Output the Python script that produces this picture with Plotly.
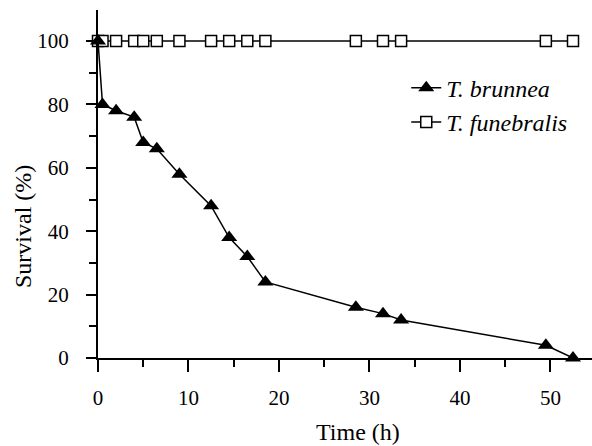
import plotly.graph_objects as go

time_h = [0, 0.5, 2, 4, 5, 6.5, 9, 12.5, 14.5, 16.5, 18.5, 28.5, 31.5, 33.5, 49.5, 52.5]
brunnea = [100, 80, 78, 76, 68, 66, 58, 48, 38, 32, 24, 16, 14, 12, 4, 0]
funebralis = [100] * len(time_h)

x_ticks = [0, 10, 20, 30, 40, 50]
y_ticks = [0, 20, 40, 60, 80, 100]

FONT = "Liberation Serif, Times New Roman, serif"

fig = go.Figure()
fig.add_trace(go.Scatter(
    x=time_h, y=funebralis, mode="lines+markers", name="<i>T. funebralis</i>",
    line=dict(color="black", width=1.5),
    marker=dict(symbol="square", size=11, color="white", line=dict(color="black", width=1.5)),
    cliponaxis=False, legendrank=2,
))
fig.add_trace(go.Scatter(
    x=time_h, y=brunnea, mode="lines+markers", name="<i>T. brunnea</i>",
    line=dict(color="black", width=1.5),
    marker=dict(symbol="triangle-up", size=14, color="black"),
    cliponaxis=False, legendrank=1,
))

axis_common = dict(
    showline=True, linecolor="black", linewidth=2, showgrid=False, zeroline=False,
    ticks="outside", tickcolor="black", tickwidth=2,
    tickfont=dict(family=FONT, size=21, color="black"),
)
fig.update_xaxes(range=[0, 54.6], tickvals=x_ticks, ticklen=12, ticklabelstandoff=8,
                 minor=dict(ticks="outside", dtick=5, ticklen=7, tickcolor="black", tickwidth=2),
                 **axis_common)
fig.update_yaxes(range=[0, 109.8], tickvals=y_ticks, ticklen=10, ticklabelstandoff=13,
                 minor=dict(ticks="outside", dtick=10, ticklen=7, tickcolor="black", tickwidth=2),
                 **axis_common)

fig.add_annotation(text="Time (h)", xref="paper", yref="paper", x=0.526, y=-0.2126,
                   xanchor="center", yanchor="middle", showarrow=False,
                   font=dict(family=FONT, size=24, color="black"))
fig.add_annotation(text="Survival (%)", xref="paper", yref="paper", x=-0.152, y=0.379,
                   xanchor="center", yanchor="middle", showarrow=False, textangle=-90,
                   font=dict(family=FONT, size=24, color="black"))

fig.update_layout(
    width=592, height=446,
    margin=dict(l=98, r=0, t=10, b=88),
    plot_bgcolor="white", paper_bgcolor="white",
    showlegend=True,
    legend=dict(x=0.624, y=0.84, xanchor="left", yanchor="top",
                font=dict(family=FONT, size=24, color="black"),
                bgcolor="rgba(0,0,0,0)", tracegroupgap=0),
)

fig.write_html("out.html", config={"displayModeBar": False},
               post_script="document.body.style.margin='0';")
